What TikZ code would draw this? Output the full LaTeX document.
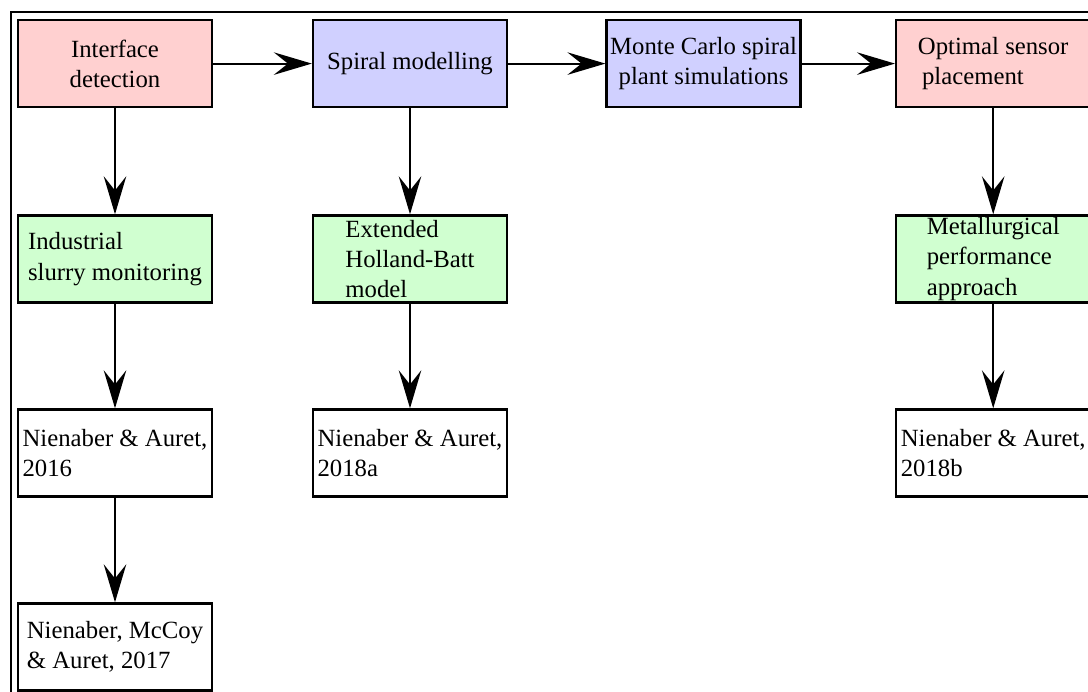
\documentclass[tikz,border=0pt]{standalone}
\usepackage{fontspec}
\setmainfont{Liberation Serif}
\usetikzlibrary{arrows.meta}
\definecolor{pinkfill}{RGB}{255,208,208}
\definecolor{bluefill}{RGB}{208,208,255}
\definecolor{greenfill}{RGB}{208,255,208}
\begin{document}
\begin{tikzpicture}[
  blk/.style={draw, line width=1.7pt, minimum width=4.85cm, minimum height=2.175cm, inner sep=0pt, font=\fontsize{17.6}{21.5}\selectfont},
  topic/.style={blk, fill=pinkfill, align=center},
  model/.style={blk, fill=bluefill, align=center},
  work/.style={blk, fill=greenfill, align=left},
  paper/.style={blk, fill=white, align=left},
  flow/.style={-{Stealth[length=27pt, width=16pt, inset=10pt]}, line width=1.5pt}
]
\clip (0,0) rectangle (27.2,-17.3);
% outer frame, runs off the page on the right and bottom
\draw[line width=1.5pt] (0.275,-0.3) rectangle (28,-18);
% top row
\node[topic] (a) at (2.875,-1.59) {Interface\\ detection};
\node[model] (b) at (10.25,-1.59) {Spiral modelling};
\node[model] (c) at (17.59,-1.59) {Monte Carlo spiral\\ plant simulations};
\node[topic, align=left] (d) at (24.83,-1.59) {Optimal sensor\\ \,placement};
% second row
\node[work] (a2) at (2.875,-6.475) {Industrial\\ slurry monitoring};
\node[work] (b2) at (10.25,-6.475) {Extended\\ Holland-Batt\\ model};
\node[work] (d2) at (24.83,-6.475) {Metallurgical\\ performance\\ approach};
% publications
\node[paper] (a3) at (2.875,-11.325) {Nienaber \& Auret,\\ 2016};
\node[paper] (b3) at (10.25,-11.325) {Nienaber \& Auret,\\ 2018a};
\node[paper] (d3) at (24.83,-11.325) {Nienaber \& Auret,\\ 2018b};
\node[paper] (a4) at (2.875,-16.175) {Nienaber, McCoy\\ \& Auret, 2017};
\draw[flow] (a) -- (b);
\draw[flow] (b) -- (c);
\draw[flow] (c) -- (d);
\draw[flow] (a) -- (a2);
\draw[flow] (a2) -- (a3);
\draw[flow] (a3) -- (a4);
\draw[flow] (b) -- (b2);
\draw[flow] (b2) -- (b3);
\draw[flow] (d) -- (d2);
\draw[flow] (d2) -- (d3);
\end{tikzpicture}
\end{document}
